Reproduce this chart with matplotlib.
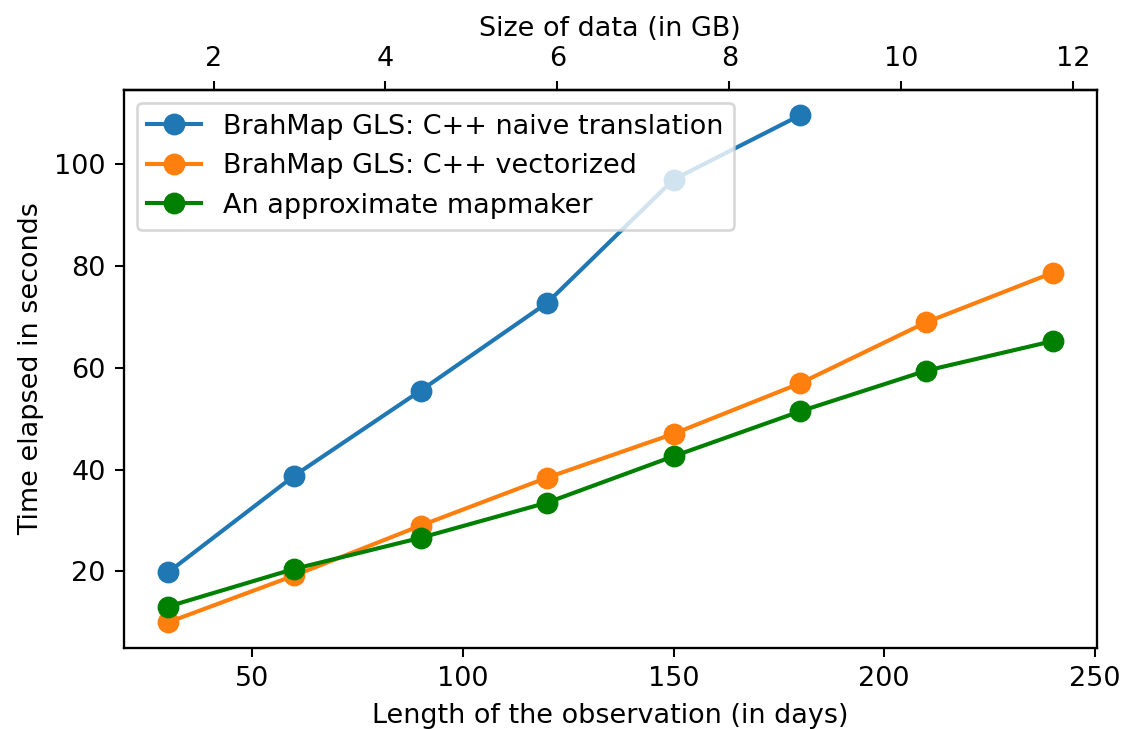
import matplotlib
matplotlib.use("Agg")
import matplotlib.pyplot as plt

days = [30, 60, 90, 120, 150, 180, 210, 240]
naive = [19.8, 38.8, 55.5, 72.7, 96.9, 109.5]
vectorized = [10.0, 19.2, 29.0, 38.4, 47.0, 56.9, 68.9, 78.6]
approx = [13.1, 20.5, 26.6, 33.5, 42.6, 51.4, 59.4, 65.2]

gb_per_day = 0.049  # data size grows linearly with observation length

plt.rcParams["font.size"] = 10.5
plt.rcParams["axes.linewidth"] = 0.9
plt.rcParams["lines.linewidth"] = 1.6

dpi = 185
fig, ax = plt.subplots(figsize=(1125 / dpi, 729 / dpi), dpi=dpi)
fig.subplots_adjust(left=0.110, right=0.975, bottom=0.1115, top=0.8765)

ax.plot(days[:len(naive)], naive, marker="o", markersize=7.5, color="tab:blue",
        label="BrahMap GLS: C++ naive translation")
ax.plot(days, vectorized, marker="o", markersize=7.5, color="tab:orange",
        label="BrahMap GLS: C++ vectorized")
ax.plot(days, approx, marker="o", markersize=7.5, color="green",
        label="An approximate mapmaker")

ax.set_xlabel("Length of the observation (in days)", labelpad=4.5)
ax.set_ylabel("Time elapsed in seconds")

top = ax.secondary_xaxis("top", functions=(lambda d: d * gb_per_day, lambda g: g / gb_per_day))
top.set_xlabel("Size of data (in GB)")

ax.legend(loc="upper left", borderaxespad=0.48)

fig.savefig("out.png", dpi=dpi)
